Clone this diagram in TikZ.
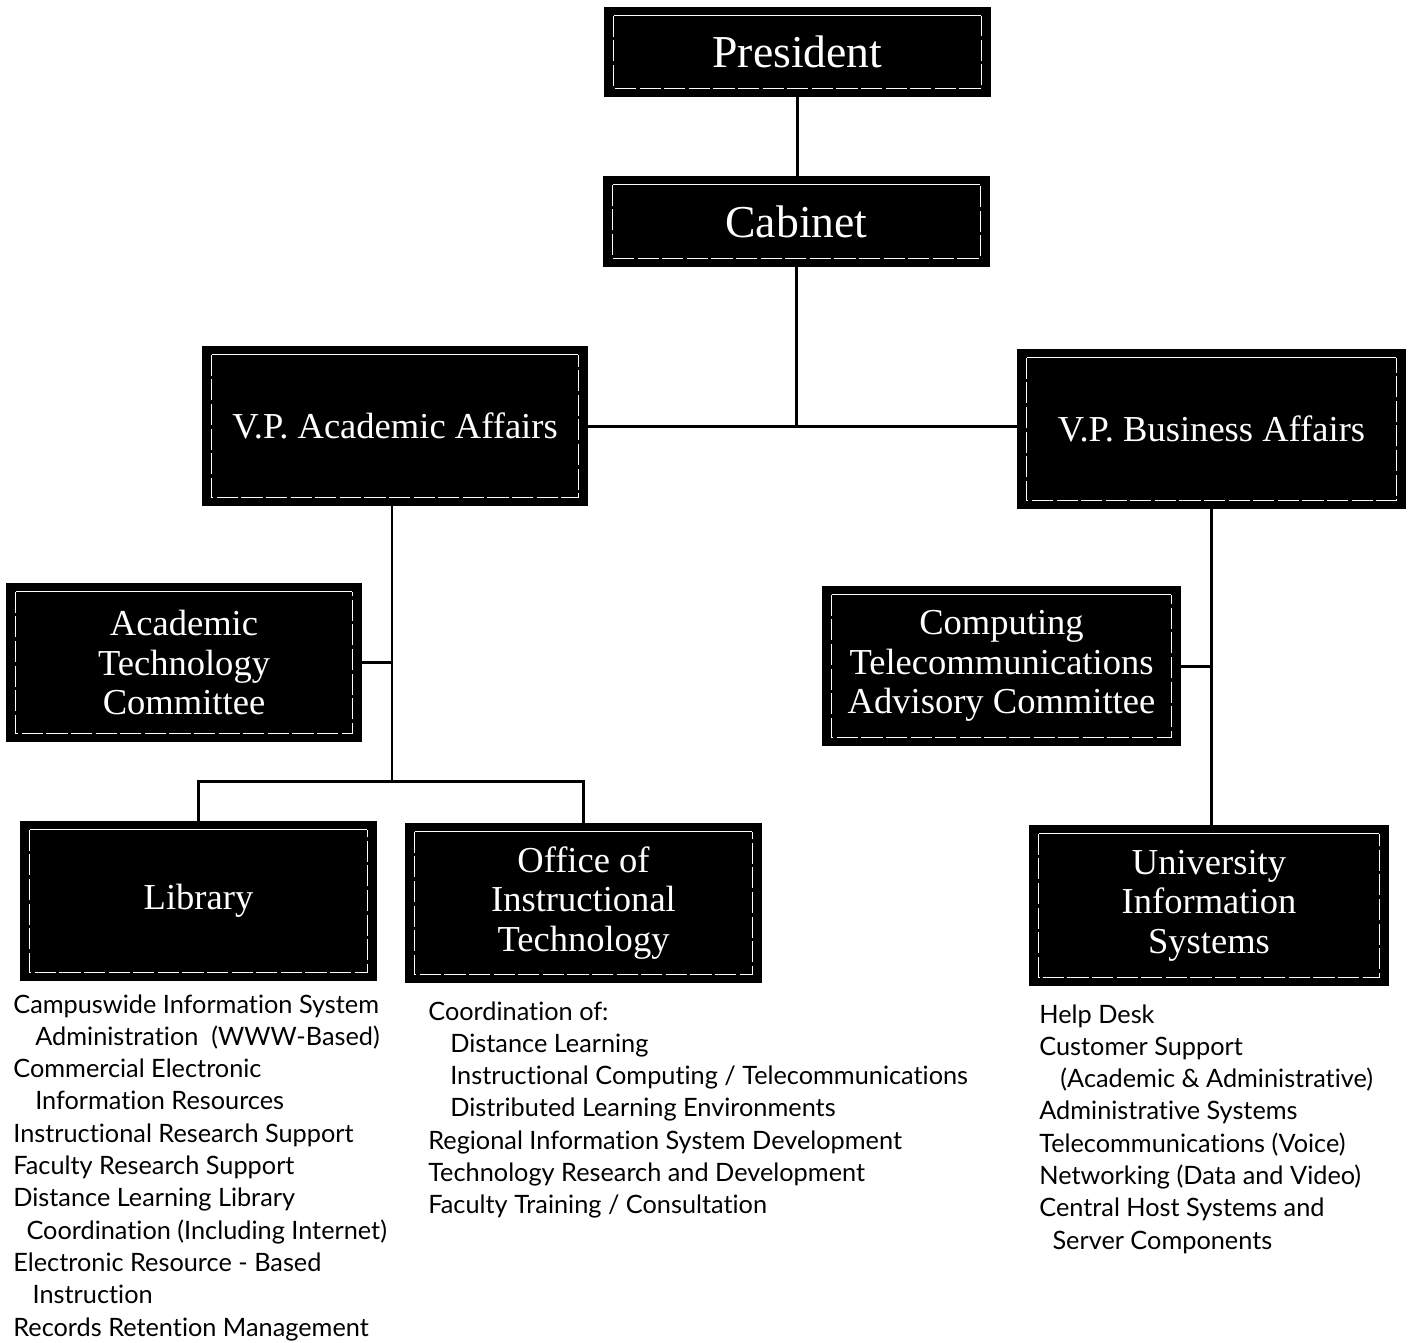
\documentclass[tikz,border=0pt]{standalone}
\usepackage{fontspec}
\setmainfont{Liberation Serif}
\newfontfamily\listfont{Lato}[Ligatures={NoCommon}]
\tikzset{
  unitbox/.style={fill=black, text=white, inner sep=0pt, outer sep=0pt, align=center,
    font=\fontsize{20.8}{22.4}\selectfont,
    path picture={
      \draw[white, line width=0.6pt] ([shift={(5.5pt,-5pt)}]path picture bounding box.north west) -- ([shift={(-5.5pt,-5pt)}]path picture bounding box.north east);
      \draw[white, line width=0.35pt, dash pattern=on 12pt off 2pt] ([shift={(5.5pt,-5pt)}]path picture bounding box.north west) |- ([shift={(-5.5pt,5pt)}]path picture bounding box.south east) -- ([shift={(-5.5pt,-5pt)}]path picture bounding box.north east);}},
  topbox/.style={unitbox, font=\fontsize{26}{28}\selectfont},
  tasklist/.style={anchor=north west, inner sep=0pt, align=left, font=\listfont\fontsize{14.4}{18.4}\selectfont},
  link/.style={line width=1.7pt}
}
\begin{document}
\begin{tikzpicture}[x=0.02cm, y=-0.02cm]
    \useasboundingbox (0,0) rectangle (1412,1342);
    % top of the chart
    \node[topbox, minimum width=7.74cm, minimum height=1.8cm] (pres) at (797.5,52) {President};
    \node[topbox, minimum width=7.74cm, minimum height=1.82cm] (cab) at (796.5,221.5) {Cabinet};
    \node[unitbox, minimum width=7.72cm, minimum height=3.2cm] (vpa) at (395,426) {V.P. Academic Affairs};
    \node[unitbox, minimum width=7.78cm, minimum height=3.2cm] (vpb) at (1211.5,429) {V.P. Business Affairs};
    % committees
    \node[unitbox, minimum width=7.12cm, minimum height=3.18cm] (atc) at (184,662.5) {Academic\\Technology\\Committee};
    \node[unitbox, minimum width=7.18cm, minimum height=3.2cm] (ctac) at (1001.5,666) {Computing\\Telecommunications\\Advisory Committee};
    % units
    \node[unitbox, minimum width=7.14cm, minimum height=3.2cm] (lib) at (198.5,901) {Library};
    \node[unitbox, minimum width=7.14cm, minimum height=3.2cm] (oit) at (583.5,903) {Office of\\Instructional\\Technology};
    \node[unitbox, minimum width=7.2cm, minimum height=3.22cm] (uis) at (1209,905.5) {University\\Information\\Systems};
    % tasks
    \node[tasklist] (libtasks) at (13,994) {Campuswide Information System\\
        \hspace*{12.5pt}Administration~~(WWW-Based)\\
        Commercial Electronic\\
        \hspace*{12.5pt}Information Resources\\
        Instructional Research Support\\
        Faculty Research Support\\
        Distance Learning Library\\
        \hspace*{7.5pt}Coordination (Including Internet)\\
        Electronic Resource - Based\\
        \hspace*{11pt}Instruction\\
        Records Retention Management};
    \node[tasklist] (oittasks) at (428,1001) {Coordination of:\\
        \hspace*{12.5pt}Distance Learning\\
        \hspace*{12.5pt}Instructional Computing / Telecommunications\\
        \hspace*{12.5pt}Distributed Learning Environments\\
        Regional Information System Development\\
        Technology Research and Development\\
        Faculty Training / Consultation};
    \node[tasklist] (uistasks) at (1039,1004) {Help Desk\\
        Customer Support\\
        \hspace*{12pt}(Academic \& Administrative)\\
        Administrative Systems\\
        Telecommunications (Voice)\\
        Networking (Data and Video)\\
        Central Host Systems and\\
        \hspace*{7.5pt}Server Components};
    % lines
    \draw[link] (pres.south) -- (pres.south |- cab.north);
    \draw[link] (cab.south) -- (cab.south |- vpa.east);
    \draw[link] (vpa.east) -- (vpa.east -| vpb.west);
    \coordinate (acj) at (392,781);
    \draw[link] (vpa.south -| acj) -- (acj);
    \draw[link] (atc.east) -- (atc.east -| acj);
    \draw[link] (lib.north) |- (acj) -| (oit.north);
    \draw[link] (vpb.south) -- (vpb.south |- uis.north);
    \draw[link] (ctac.east) -- (ctac.east -| vpb.south);
\end{tikzpicture}
\end{document}
